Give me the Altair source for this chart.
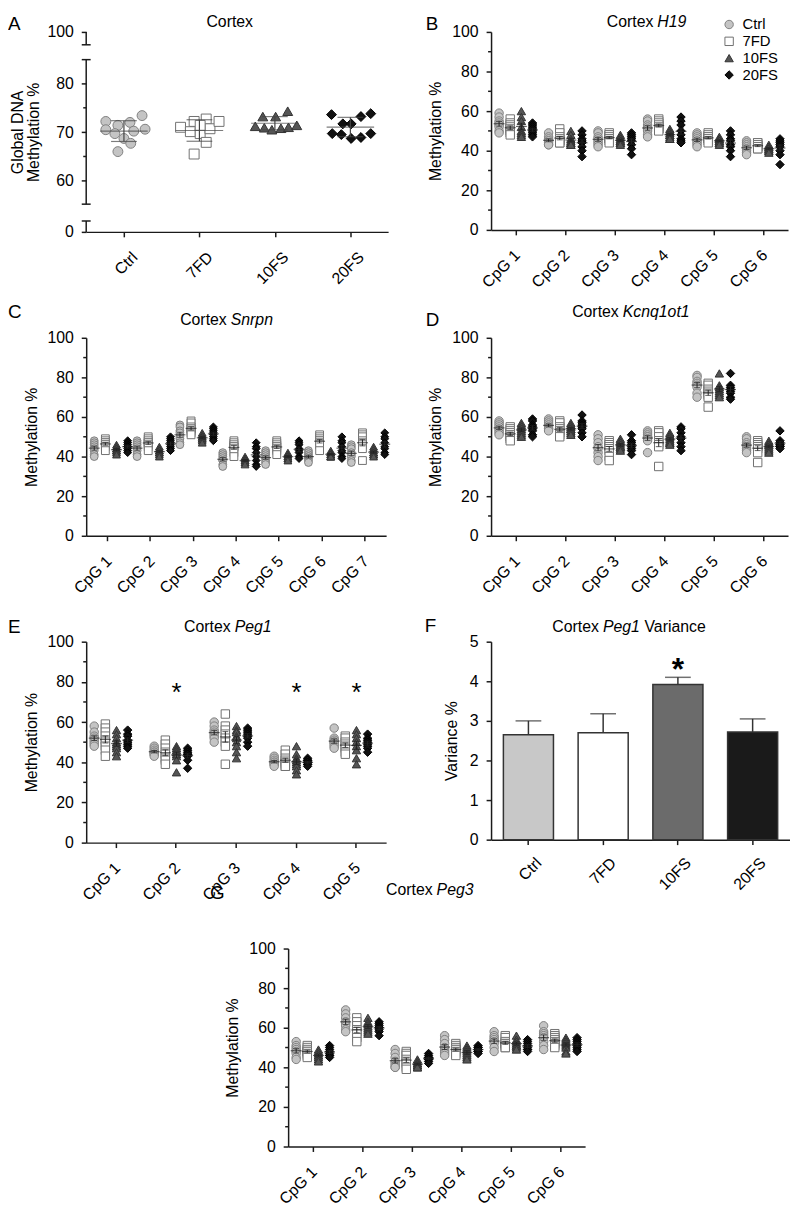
import altair as alt
import pandas as pd

FONT = "Liberation Sans"
AXC = "#1a1a1a"
LINEC = "#222222"
GROUPS = ["Ctrl", "7FD", "10FS", "20FS"]
FILLS = ["#c4c4c4", "#ffffff", "#555555", "#111111"]
STROKES = ["#7f7f7f", "#707070", "#333333", "#000000"]
SHAPES = ["circle", "square", "triangle-up", "diamond"]
BAR_FILLS = ["#c8c8c8", "#ffffff", "#6b6b6b", "#1a1a1a"]

# ---------------- Panel A: global DNA methylation (values + beeswarm jitter)
A_ctrl = [72.2, 70.5, 71.4, 69.7, 72.0, 70.2, 68.7, 67.7, 73.4, 70.6, 66.0]
A_ctrl_jit = [-0.24, -0.24, -0.08, -0.12, 0.08, 0.13, 0.0, 0.09, 0.24, 0.28, -0.08]
A_7fd = [71.0, 70.1, 72.2, 69.7, 72.7, 70.7, 72.2, 67.9, 65.5, 71.4]
A_7fd_jit = [-0.25, -0.12, -0.07, 0.01, 0.09, 0.14, 0.26, 0.09, -0.07, 0.01]
A_10fs = [71.2, 70.9, 70.5, 70.8, 71.0, 71.4, 73.2, 73.2, 74.3]
A_10fs_jit = [-0.26, -0.14, -0.04, 0.08, 0.18, 0.29, -0.16, 0.01, 0.17]
A_20fs = [73.6, 71.7, 71.7, 73.2, 73.8, 69.7, 69.5, 68.7, 68.9, 69.7]
A_20fs_jit = [-0.25, -0.10, 0.01, 0.14, 0.27, -0.24, -0.12, 0.01, 0.14, 0.27]
A_TICKS = [0, 60, 70, 80, 100]
A_BREAK_DOMAIN = [0, 2.2, 55.2, 84.9, 97.4, 100]

# ---------------- Panel B: H19
H19_CPG = ["CpG 1", "CpG 2", "CpG 3", "CpG 4", "CpG 5", "CpG 6"]
H19_ctrl = [[59, 57, 55, 54, 53, 52, 50, 49], [49, 47, 46, 45, 45, 44, 43, 43], [50, 49, 47, 46, 45, 44, 43, 42],
            [56, 55, 53, 52, 51, 50, 48, 47], [49, 48, 47, 46, 45, 44, 43, 42], [45, 44, 43, 42, 41, 40, 39, 38]]
H19_7fd = [[56, 54, 53, 52, 51, 50, 49, 48], [51, 49, 47, 46, 45, 45, 44, 44], [49, 48, 48, 47, 46, 46, 45, 44],
           [56, 55, 54, 53, 52, 51, 51, 50], [49, 48, 47, 47, 46, 46, 45, 44], [44, 44, 43, 43, 42, 42, 41, 41]]
H19_10fs = [[60, 57, 55, 52, 50, 49, 48, 47], [50, 48, 46, 45, 44, 44, 43, 43], [48, 47, 46, 45, 45, 44, 44, 43],
            [51, 50, 49, 48, 48, 47, 46, 46], [47, 46, 46, 45, 45, 44, 44, 43], [43, 42, 42, 41, 41, 40, 40, 39]]
H19_20fs = [[54, 53, 52, 51, 50, 49, 48, 47], [50, 48, 46, 45, 44, 42, 40, 37], [49, 48, 47, 46, 45, 43, 41, 38],
            [57, 55, 53, 50, 48, 46, 45, 44], [50, 48, 46, 45, 43, 42, 40, 37], [46, 45, 44, 43, 42, 40, 38, 33]]

# ---------------- Panel C: Snrpn
SNRPN_CPG = ["CpG 1", "CpG 2", "CpG 3", "CpG 4", "CpG 5", "CpG 6", "CpG 7"]
S_ctrl = [[48, 47, 46, 45, 44, 43, 41, 40], [48, 47, 46, 45, 44, 43, 41, 40], [56, 55, 53, 52, 50, 49, 47, 46],
          [42, 41, 40, 39, 38, 38, 36, 35], [43, 42, 41, 40, 39, 38, 37, 36], [43, 42, 41, 40, 40, 39, 38, 37],
          [46, 45, 44, 42, 41, 40, 38, 37]]
S_7fd = [[49, 48, 47, 47, 46, 46, 45, 43], [50, 49, 48, 47, 47, 46, 45, 43], [58, 57, 55, 54, 54, 53, 52, 51],
         [48, 47, 46, 45, 45, 44, 42, 40], [48, 47, 46, 45, 45, 44, 43, 41], [51, 50, 49, 48, 48, 47, 46, 43],
         [52, 51, 50, 48, 47, 46, 44, 38]]
S_10fs = [[46, 45, 44, 44, 43, 43, 42, 41], [45, 44, 43, 43, 42, 42, 41, 40], [52, 51, 50, 50, 49, 49, 48, 47],
          [40, 39, 39, 38, 38, 37, 37, 36], [42, 41, 41, 40, 40, 39, 39, 38], [43, 42, 42, 41, 41, 40, 40, 40],
          [45, 44, 43, 42, 42, 41, 41, 40]]
S_20fs = [[48, 47, 46, 45, 45, 44, 43, 42], [50, 49, 48, 47, 46, 45, 44, 43], [55, 54, 53, 52, 51, 50, 49, 48],
          [47, 45, 44, 42, 40, 38, 36, 35], [48, 47, 46, 44, 43, 42, 40, 39], [50, 48, 47, 45, 43, 42, 40, 39],
          [52, 50, 49, 47, 45, 44, 42, 41]]

# ---------------- Panel D: Kcnq1ot1
K_CPG = ["CpG 1", "CpG 2", "CpG 3", "CpG 4", "CpG 5", "CpG 6"]
K_ctrl = [[58, 57, 56, 55, 54, 53, 52, 51], [59, 58, 57, 56, 55, 54, 54, 53], [51, 49, 47, 45, 44, 42, 40, 38],
          [53, 52, 51, 50, 50, 49, 48, 42], [81, 80, 78, 77, 76, 75, 72, 70], [50, 49, 47, 46, 45, 44, 43, 42]]
K_7fd = [[55, 54, 53, 52, 51, 50, 49, 48], [58, 57, 55, 54, 53, 52, 51, 50], [48, 47, 46, 45, 44, 43, 40, 38],
         [53, 52, 50, 48, 47, 46, 45, 35], [77, 76, 74, 73, 72, 71, 70, 65], [48, 47, 46, 45, 45, 44, 42, 37]]
K_10fs = [[57, 56, 55, 54, 53, 52, 51, 50], [57, 56, 55, 54, 54, 53, 52, 51], [49, 48, 47, 46, 45, 45, 44, 43],
          [52, 51, 50, 49, 48, 47, 47, 46], [82, 76, 75, 74, 73, 72, 71, 70], [48, 47, 46, 46, 45, 44, 43, 42]]
K_20fs = [[59, 58, 56, 55, 54, 53, 51, 50], [61, 58, 57, 56, 55, 54, 52, 50], [51, 48, 47, 46, 45, 44, 43, 41],
          [55, 54, 52, 50, 49, 47, 45, 43], [82, 76, 75, 74, 73, 72, 70, 69], [53, 48, 47, 46, 46, 45, 45, 44]]

# ---------------- Panel E: Peg1
PEG1_CPG = ["CpG 1", "CpG 2", "CpG 3", "CpG 4", "CpG 5"]
P1_ctrl = [[58, 55, 53, 52, 51, 50, 49, 48], [48, 47, 46, 45, 45, 44, 44, 43], [60, 58, 56, 55, 54, 53, 52, 50],
           [43, 42, 41, 40, 40, 39, 39, 38], [57, 52, 51, 50, 50, 49, 48, 47]]
P1_7fd = [[59, 57, 55, 53, 51, 50, 48, 46, 43], [51, 49, 47, 45, 44, 42, 41, 39], [64, 58, 56, 54, 52, 50, 48, 39],
          [46, 44, 42, 41, 40, 39, 38, 38], [53, 52, 50, 49, 48, 47, 45, 44]]
P1_10fs = [[56, 54, 52, 50, 49, 48, 47, 45, 43], [48, 47, 46, 45, 44, 43, 41, 35], [58, 56, 55, 53, 52, 50, 48, 45, 42],
           [48, 44, 42, 41, 40, 39, 38, 36, 34], [56, 54, 52, 50, 48, 46, 42, 39]]
P1_20fs = [[56, 54, 53, 51, 50, 49, 48, 47], [47, 46, 45, 44, 44, 43, 41, 37], [57, 56, 55, 54, 53, 52, 50, 48],
           [42, 41, 41, 40, 40, 39, 39, 38], [54, 52, 51, 50, 49, 48, 47, 45]]
PEG1_STARS = ["CpG 2", "CpG 4", "CpG 5"]
PEG1_STAR_Y = [78, 78, 78]

# ---------------- Panel F: Peg1 variance
VAR_MEAN = [2.65, 2.70, 3.92, 2.72]
VAR_ERR = [0.35, 0.48, 0.18, 0.33]
VAR_STARS = ["10FS"]
VAR_STAR_Y = [4.5]

# ---------------- Panel G: Peg3
PEG3_CPG = ["CpG 1", "CpG 2", "CpG 3", "CpG 4", "CpG 5", "CpG 6"]
P3_ctrl = [[53, 51, 50, 49, 48, 47, 45, 44], [69, 67, 65, 63, 62, 61, 59, 58], [49, 47, 45, 43, 42, 41, 40, 40],
           [56, 54, 52, 50, 49, 48, 47, 46], [58, 56, 55, 54, 53, 52, 50, 48], [61, 58, 57, 56, 55, 53, 51, 49]]
P3_7fd = [[51, 50, 49, 48, 48, 47, 46, 45], [65, 63, 61, 59, 58, 57, 55, 53], [48, 47, 46, 44, 43, 42, 40, 39],
          [52, 51, 50, 49, 49, 48, 47, 46], [56, 55, 53, 52, 52, 51, 50, 50], [57, 56, 55, 54, 53, 52, 51, 50]]
P3_10fs = [[49, 48, 47, 46, 46, 45, 44, 43], [65, 63, 62, 61, 60, 59, 58, 57], [44, 43, 42, 42, 41, 41, 40, 40],
           [51, 50, 49, 48, 47, 46, 45, 44], [56, 54, 53, 52, 51, 51, 50, 49], [55, 54, 53, 52, 51, 50, 48, 47]]
P3_20fs = [[51, 50, 49, 48, 47, 46, 46, 45], [63, 62, 61, 60, 60, 59, 58, 56], [47, 46, 45, 45, 44, 44, 43, 42],
           [51, 50, 50, 49, 49, 48, 48, 47], [54, 53, 52, 51, 50, 49, 49, 48], [55, 54, 53, 52, 51, 50, 49, 48]]

TITLE_SIZE = 16


def text_layers(items):
    out = []
    for t, x, y, align, size, style in items:
        out.append(
            alt.Chart(pd.DataFrame({"t": [t]}))
            .mark_text(align=align, baseline="middle", fontSize=size, fontStyle=style, font=FONT, color="black")
            .encode(x=alt.value(x), y=alt.value(y), text="t:N")
        )
    return out


def title_items(plain, italic, xr, y, extra=None):
    items = [(plain, xr, y, "right", TITLE_SIZE, "normal"), (italic, xr + 4, y, "left", TITLE_SIZE, "italic")]
    if extra:
        items.append((extra[0], extra[1], y, "left", TITLE_SIZE, "normal"))
    return items


def letter_item(letter, x, y):
    return [(letter, x, y, "left", 19, "normal")]


def cpg_frame(cpgs, series):
    rows = []
    for g, lists in zip(GROUPS, series):
        for c, vals in zip(cpgs, lists):
            for v in vals:
                rows.append({"cpg": c, "group": g, "v": v})
    return pd.DataFrame(rows)


def cpg_panel(cpgs, series, width, height, po, texts, legend=None, stars=None, star_y=None, size=72,
              xshift=0, view_width=None):
    df = cpg_frame(cpgs, series)
    if xshift:
        xs = alt.Scale(domain=cpgs, paddingInner=0, paddingOuter=0, range=[xshift, xshift + width])
    else:
        xs = alt.Scale(domain=cpgs, paddingInner=0, paddingOuter=0)
    xax = alt.Axis(labelAngle=-45, labelAlign="right", labelBaseline="top", labelOffset=-4,
                   labelPadding=12, tickSize=5, grid=False)
    xos = alt.Scale(domain=GROUPS, paddingInner=0, paddingOuter=po)
    ys = alt.Scale(domain=[0, 100], nice=False)
    if xshift:
        yax = alt.Axis(values=[0, 20, 40, 60, 80, 100], tickSize=5, labelPadding=8, titlePadding=8,
                       grid=False, offset=-xshift)
    else:
        yax = alt.Axis(values=[0, 20, 40, 60, 80, 100], tickSize=5, labelPadding=8, titlePadding=8, grid=False)

    def X():
        return alt.X("cpg:N", scale=xs, axis=xax, sort=cpgs, title=None)

    def XO():
        return alt.XOffset("group:N", scale=xos, sort=GROUPS)

    def Y(f):
        return alt.Y(f"{f}:Q", scale=ys, axis=yax, title="Methylation %")

    pts = alt.Chart(df).mark_point(filled=True, opacity=1, size=size, strokeWidth=1).encode(
        x=X(), xOffset=XO(), y=Y("v"),
        shape=alt.Shape("group:N", scale=alt.Scale(domain=GROUPS, range=SHAPES), legend=legend),
        fill=alt.Fill("group:N", scale=alt.Scale(domain=GROUPS, range=FILLS), legend=legend),
        stroke=alt.Stroke("group:N", scale=alt.Scale(domain=GROUPS, range=STROKES), legend=legend),
    )
    stats = (alt.Chart(df)
             .transform_aggregate(m="mean(v)", s="stderr(v)", groupby=["cpg", "group"])
             .transform_calculate(lo="datum.m - datum.s", hi="datum.m + datum.s"))
    mean = stats.mark_tick(orient="horizontal", size=11, thickness=1.2, color=LINEC).encode(
        x=X(), xOffset=XO(), y=Y("m"))
    err = stats.mark_rule(color=LINEC, strokeWidth=1).encode(x=X(), xOffset=XO(), y=Y("lo"), y2="hi:Q")
    caplo = stats.mark_tick(orient="horizontal", size=6, thickness=1, color=LINEC).encode(
        x=X(), xOffset=XO(), y=Y("lo"))
    caphi = stats.mark_tick(orient="horizontal", size=6, thickness=1, color=LINEC).encode(
        x=X(), xOffset=XO(), y=Y("hi"))
    minor = alt.Chart(pd.DataFrame({"v": [10, 30, 50, 70, 90]})).mark_rule(color=AXC, strokeWidth=1.5).encode(
        x=alt.value(xshift - 3), x2=alt.value(xshift), y=Y("v"))
    layers = [minor, pts, mean, err, caplo, caphi]
    if stars:
        sdf = pd.DataFrame({"cpg": stars, "group": ["10FS"] * len(stars), "v": star_y, "t": ["*"] * len(stars)})
        layers.append(alt.Chart(sdf).mark_text(fontSize=26, font=FONT, baseline="middle", dy=7, color="black")
                      .encode(x=X(), xOffset=XO(), y=Y("v"), text="t:N"))
    layers += text_layers([(t, x + xshift, y, a, s, st) for (t, x, y, a, s, st) in texts])
    return alt.layer(*layers).properties(width=view_width or width, height=height)


def panel_A():
    rows = []
    for gi, (g, vals, jit) in enumerate(zip(GROUPS, [A_ctrl, A_7fd, A_10fs, A_20fs],
                                            [A_ctrl_jit, A_7fd_jit, A_10fs_jit, A_20fs_jit])):
        for v, j in zip(vals, jit):
            rows.append({"group": g, "gi": gi, "jit": j, "v": v})
    df = pd.DataFrame(rows)
    H = 202
    xs = alt.Scale(domain=[-0.5, 3.5], nice=False, zero=False)
    xax = alt.Axis(values=[0, 1, 2, 3], labelExpr="['Ctrl','7FD','10FS','20FS'][datum.value]",
                   labelAngle=-45, labelAlign="right", labelBaseline="top", labelOffset=5, labelPadding=12,
                   tickSize=5, grid=False)
    ys = alt.Scale(domain=A_BREAK_DOMAIN, range=[H, 191, 174, 28, 13, 0], nice=False, zero=False)
    yax = alt.Axis(values=A_TICKS, domain=False, tickSize=5, labelPadding=8, titlePadding=5,
                   titleLineHeight=17, grid=False)

    def Y(f):
        return alt.Y(f"{f}:Q", scale=ys, axis=yax, title=["Global DNA", "Methylation %"])

    def X(f):
        return alt.X(f"{f}:Q", scale=xs, axis=xax, title=None)

    seg = pd.DataFrame({"y0": [0, A_BREAK_DOMAIN[2], A_BREAK_DOMAIN[4]],
                        "y1": [A_BREAK_DOMAIN[1], A_BREAK_DOMAIN[3], 100]})
    segs = alt.Chart(seg).mark_rule(color=AXC, strokeWidth=1.5).encode(x=alt.value(0), y=Y("y0"), y2="y1:Q")
    caps = alt.Chart(pd.DataFrame({"c": A_BREAK_DOMAIN[1:5]})).mark_rule(color=AXC, strokeWidth=1.5).encode(
        x=alt.value(-4.5), x2=alt.value(4.5), y=Y("c"))
    minor = alt.Chart(pd.DataFrame({"c": [65, 75]})).mark_rule(color=AXC, strokeWidth=1.5).encode(
        x=alt.value(-3), x2=alt.value(0), y=Y("c"))
    pts = (alt.Chart(df).transform_calculate(xp="datum.gi + datum.jit")
           .mark_point(filled=True, opacity=1, size=100, strokeWidth=1)
           .encode(x=X("xp"), y=Y("v"),
                   shape=alt.Shape("group:N", scale=alt.Scale(domain=GROUPS, range=SHAPES), legend=None),
                   fill=alt.Fill("group:N", scale=alt.Scale(domain=GROUPS, range=FILLS), legend=None),
                   stroke=alt.Stroke("group:N", scale=alt.Scale(domain=GROUPS, range=STROKES), legend=None)))
    stats = (alt.Chart(df).transform_aggregate(m="mean(v)", s="stdev(v)", groupby=["gi"])
             .transform_calculate(lo="datum.m - datum.s", hi="datum.m + datum.s"))
    mean = stats.mark_tick(orient="horizontal", size=48, thickness=1.2, color="#444").encode(x=X("gi"), y=Y("m"))
    err = stats.mark_rule(color="#444", strokeWidth=1.2).encode(x=X("gi"), y=Y("lo"), y2="hi:Q")
    clo = stats.mark_tick(orient="horizontal", size=26, thickness=1.2, color="#444").encode(x=X("gi"), y=Y("lo"))
    chi = stats.mark_tick(orient="horizontal", size=26, thickness=1.2, color="#444").encode(x=X("gi"), y=Y("hi"))
    texts = text_layers([("Cortex", 145, -10, "center", TITLE_SIZE, "normal")] + letter_item("A", -79, -8))
    return alt.layer(segs, caps, minor, pts, mean, err, clo, chi, *texts).properties(width=305, height=H)


def panel_F():
    df = pd.DataFrame({"group": GROUPS, "m": VAR_MEAN, "e": VAR_ERR})
    xs = alt.Scale(domain=GROUPS, paddingInner=0.33, paddingOuter=0.165)
    xax = alt.Axis(labelAngle=-45, labelAlign="right", labelBaseline="top", labelOffset=5, labelPadding=10,
                   tickSize=5, grid=False)
    ys = alt.Scale(domain=[0, 5], nice=False)
    yax = alt.Axis(values=[0, 1, 2, 3, 4, 5], tickSize=5, labelPadding=8, titlePadding=10, grid=False)

    def X():
        return alt.X("group:N", scale=xs, axis=xax, sort=GROUPS, title=None)

    def Y(f):
        return alt.Y(f"{f}:Q", scale=ys, axis=yax, title="Variance %")

    base = alt.Chart(df).transform_calculate(hi="datum.m + datum.e")
    err = base.mark_rule(color="#333", strokeWidth=1.5).encode(x=X(), y=Y("m"), y2="hi:Q")
    cap = base.mark_tick(orient="horizontal", size=26, thickness=1.5, color="#333").encode(x=X(), y=Y("hi"))
    bars = alt.Chart(df).mark_bar(stroke="#333", strokeWidth=1.5).encode(
        x=X(), y=Y("m"),
        fill=alt.Fill("group:N", scale=alt.Scale(domain=GROUPS, range=BAR_FILLS), legend=None))
    sdf = pd.DataFrame({"group": VAR_STARS, "v": VAR_STAR_Y, "t": ["*"] * len(VAR_STARS)})
    star = alt.Chart(sdf).mark_text(fontSize=32, fontWeight="bold", font=FONT, baseline="middle", dy=9,
                                    color="black").encode(x=X(), y=Y("v"), text="t:N")
    texts = text_layers(title_items("Cortex", "Peg1", 109, -14.5, extra=("Variance", 155))
                        + letter_item("F", -67, -16))
    return alt.layer(err, cap, bars, star, *texts).properties(width=302, height=200)


legend_B = alt.Legend(title=None, orient="none", legendX=233, legendY=-15, symbolSize=72,
                      labelFontSize=15, labelFont=FONT, labelColor="black", rowPadding=1, labelOffset=6,
                      symbolStrokeWidth=1, padding=0)

A = panel_A()
B = cpg_panel(H19_CPG, [H19_ctrl, H19_7fd, H19_10fs, H19_20fs], 300, 200, 0.22,
              title_items("Cortex", "H19", 164, -10) + letter_item("B", -66, -8), legend=legend_B)
C = cpg_panel(SNRPN_CPG, [S_ctrl, S_7fd, S_10fs, S_20fs], 303, 200, 0.39,
              title_items("Cortex", "Snrpn", 142, -18) + letter_item("C", -79, -26), size=62)
D = cpg_panel(K_CPG, [K_ctrl, K_7fd, K_10fs, K_20fs], 300, 200, 0.2,
              title_items("Cortex", "Kcnq1ot1", 129, -26) + letter_item("D", -66, -18))
E = cpg_panel(PEG1_CPG, [P1_ctrl, P1_7fd, P1_10fs, P1_20fs], 303, 203, 0.37,
              title_items("Cortex", "Peg1", 146, -15) + letter_item("E", -79, -14.5),
              stars=PEG1_STARS, star_y=PEG1_STAR_Y)
F = panel_F()
# G sits in the right-hand grid column; its scale range is shifted left so the panel is centred
G = cpg_panel(PEG3_CPG, [P3_ctrl, P3_7fd, P3_10fs, P3_20fs], 300, 200, 0.2,
              title_items("Cortex", "Peg3", 146, -59) + letter_item("G", -79, -56),
              xshift=-205, view_width=95)
spacer = (alt.Chart(pd.DataFrame({"a": [0]})).mark_point(opacity=0)
          .encode(x=alt.value(0), y=alt.value(0)).properties(width=100, height=10))

chart = (
    alt.concat(A, B, C, D, E, F, spacer, G, columns=2,
               spacing={"row": 107, "column": 104}, bounds="flush",
               align={"row": "each", "column": "each"})
    .resolve_scale(shape="independent", fill="independent", stroke="independent")
    .properties(padding=0)
    .configure(font=FONT)
    .configure_view(stroke=None)
    .configure_axis(domainColor=AXC, domainWidth=1.5, tickColor=AXC, tickWidth=1.5, labelFont=FONT,
                    labelFontSize=16, labelColor="black", titleFont=FONT, titleFontSize=16,
                    titleFontWeight="normal", titleColor="black", grid=False)
)

chart.save("out.html", embed_options={"renderer": "svg", "actions": False})
